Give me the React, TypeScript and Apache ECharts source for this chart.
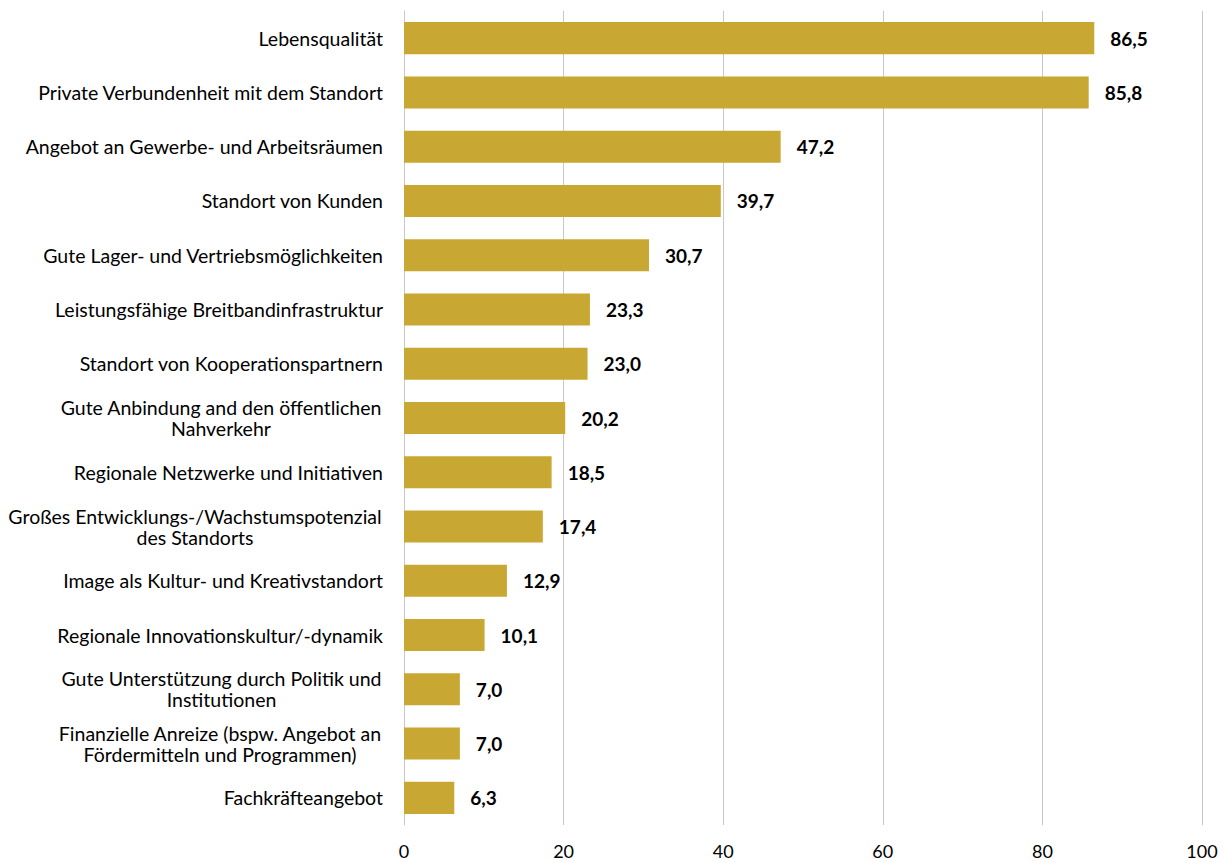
import React, { useEffect, useRef } from "react";
import * as echarts from "echarts";

const categories: string[] = [
  "Lebensqualität",
  "Private Verbundenheit mit dem Standort",
  "Angebot an Gewerbe- und Arbeitsräumen",
  "Standort von Kunden",
  "Gute Lager- und Vertriebsmöglichkeiten",
  "Leistungsfähige Breitbandinfrastruktur",
  "Standort von Kooperationspartnern",
  "Gute Anbindung and den öffentlichen\nNahverkehr",
  "Regionale Netzwerke und Initiativen",
  "Großes Entwicklungs-/Wachstumspotenzial\ndes Standorts",
  "Image als Kultur- und Kreativstandort",
  "Regionale Innovationskultur/-dynamik",
  "Gute Unterstützung durch Politik und\nInstitutionen",
  "Finanzielle Anreize (bspw. Angebot an\nFördermitteln und Programmen)",
  "Fachkräfteangebot",
];

const values: number[] = [86.5, 85.8, 47.2, 39.7, 30.7, 23.3, 23.0, 20.2, 18.5, 17.4, 12.9, 10.1, 7.0, 7.0, 6.3];

const FONT = "Lato";
const LABEL_SIZE = 19.5;

function measure(text: string): number {
  const c = document.createElement("canvas").getContext("2d");
  if (!c) return text.length * 9;
  c.font = `${LABEL_SIZE}px ${FONT}`;
  return c.measureText(text).width;
}

export default function App() {
  const ref = useRef<HTMLDivElement>(null);
  useEffect(() => {
    if (!ref.current) return;
    const chart = echarts.init(ref.current, null, { renderer: "svg" });

    const rich: Record<string, any> = {};
    categories.forEach((c, i) => {
      const lines = c.split("\n");
      const w = Math.ceil(Math.max(...lines.map(measure))) + 2;
      rich["c" + i] = {
        width: lines.length > 1 ? w : undefined,
        align: lines.length > 1 ? "center" : "right",
        fontFamily: FONT,
        fontSize: LABEL_SIZE,
        color: "#000",
        lineHeight: 21,
      };
    });

    chart.setOption({
      animation: false,
      grid: { left: 404, right: 22, top: 11, bottom: 38, containLabel: false, outerBoundsMode: "none" },
      xAxis: {
        type: "value",
        min: 0,
        max: 100,
        interval: 20,
        axisLine: { show: false },
        axisTick: { show: false },
        splitLine: { show: true, lineStyle: { color: "#C8C8C8", width: 1 } },
        axisLabel: { color: "#000", fontFamily: FONT, fontSize: 18, margin: 17 },
      },
      yAxis: {
        type: "category",
        data: categories,
        inverse: true,
        axisLine: { show: true, lineStyle: { color: "#C8C8C8", width: 1 } },
        axisTick: { show: false },
        axisLabel: {
          margin: 21,
          align: "right",
          formatter: (v: string, i: number) =>
            v
              .split("\n")
              .map((l) => `{c${i}|${l}}`)
              .join("\n"),
          rich,
        },
      },
      series: [
        {
          type: "bar",
          data: values,
          barCategoryGap: "41%",
          itemStyle: { color: "#C8A832" },
          label: {
            show: true,
            position: "right",
            distance: 16,
            color: "#000",
            fontWeight: "bold",
            fontFamily: FONT,
            fontSize: 19,
            formatter: (p: any) => p.value.toFixed(1).replace(".", ","),
          },
        },
      ],
    });
    return () => chart.dispose();
  }, []);
  return <div ref={ref} style={{ width: 1224, height: 863, position: "absolute", left: 0, top: 0 }} />;
}
